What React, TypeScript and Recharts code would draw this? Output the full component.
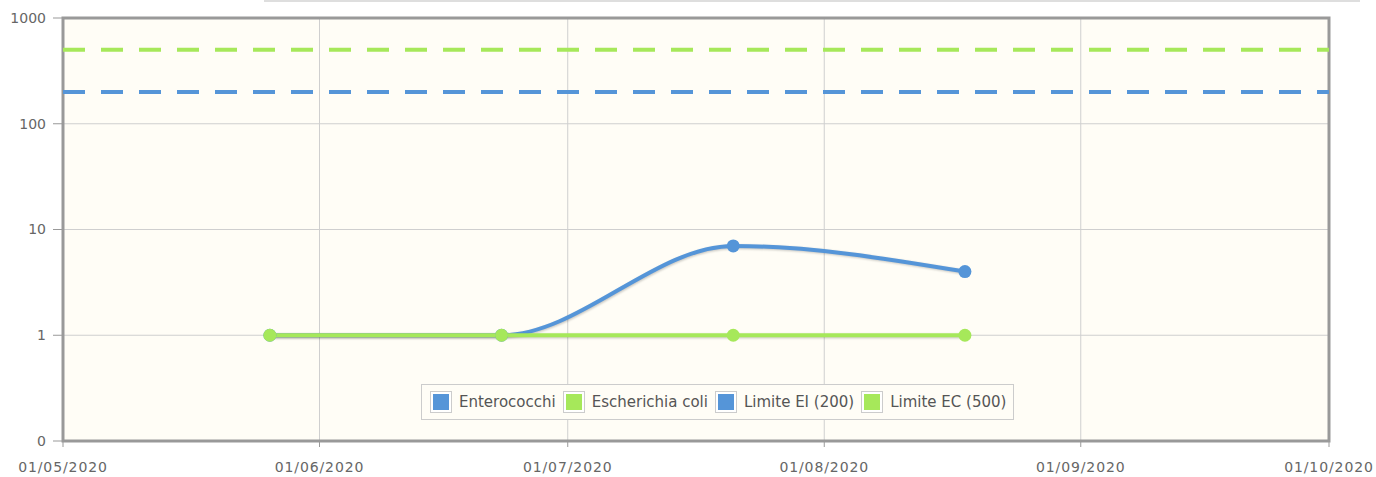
import { LineChart, Line, XAxis, YAxis, CartesianGrid, ReferenceArea } from "recharts";

const sampleDates = ["2020-05-26", "2020-06-23", "2020-07-21", "2020-08-18"];
const enterococchi = [1, 1, 7, 4];
const escherichiaColi = [1, 1, 1, 1];

const limitDates = ["2020-05-01", "2020-10-01"];
const limiteEI = [200, 200];
const limiteEC = [500, 500];

const monthTicks = ["2020-05-01", "2020-06-01", "2020-07-01", "2020-08-01", "2020-09-01", "2020-10-01"];
const yTicks = [0.1, 1, 10, 100, 1000];

const BLUE = "#5595d8";
const GREEN = "#a6e85a";

const ts = (d: string) => Date.parse(d + "T00:00:00Z");

const data = sampleDates.map((d, i) => ({ t: ts(d), ent: enterococchi[i], ec: escherichiaColi[i] }));
const limitData = limitDates.map((d, i) => ({ t: ts(d), ei: limiteEI[i], lec: limiteEC[i] }));

const legendItems = [
  { name: "Enterococchi", color: BLUE },
  { name: "Escherichia coli", color: GREEN },
  { name: "Limite EI (200)", color: BLUE },
  { name: "Limite EC (500)", color: GREEN },
];

const fmtDate = (v: number) => {
  const d = new Date(v);
  const dd = String(d.getUTCDate()).padStart(2, "0");
  const mm = String(d.getUTCMonth() + 1).padStart(2, "0");
  return `${dd}/${mm}/${d.getUTCFullYear()}`;
};

const fmtY = (v: number) => (v < 1 ? "0" : String(v));

const tickStyle = { fontFamily: "DejaVu Sans", fontSize: 14, fill: "#666" };

export default function App() {
  const x0 = ts(monthTicks[0]);
  const x1 = ts(monthTicks[monthTicks.length - 1]);
  return (
    <div style={{ position: "fixed", left: 0, top: 0, width: 1376, height: 477, background: "#fff" }}>
      <style>{`.shadowed { filter: drop-shadow(1px 1.5px 1px rgba(0,0,0,0.22)); }`}</style>
      <div style={{ position: "absolute", left: 264, top: 0, width: 1096, height: 2, background: "#dedede" }} />
      <LineChart width={1376} height={477} data={data} margin={{ top: 18, right: 47, left: 0, bottom: 0 }}>
        <CartesianGrid stroke="#cfcfcf" fill="#fffdf6" />
        <XAxis
          dataKey="t"
          type="number"
          scale="time"
          domain={[x0, x1]}
          ticks={monthTicks.map(ts)}
          tickFormatter={fmtDate}
          tick={{ ...tickStyle, letterSpacing: 0.9 }}
          axisLine={false}
          tickLine={{ stroke: "#999" }}
          tickSize={6}
          tickMargin={15}
          height={36}
          interval={0}
        />
        <YAxis
          type="number"
          scale="log"
          domain={[0.1, 1000]}
          ticks={yTicks}
          tickFormatter={fmtY}
          tick={tickStyle}
          axisLine={false}
          tickLine={{ stroke: "#999" }}
          tickSize={10}
          tickMargin={7}
          width={63}
          interval={0}
          allowDataOverflow
        />
        <ReferenceArea x1={x0} x2={x1} y1={0.1} y2={1000} fill="none" stroke="#999" strokeWidth={3} />
        <Line
          data={limitData}
          dataKey="lec"
          stroke={GREEN}
          strokeWidth={4}
          strokeDasharray="22 16"
          dot={false}
          activeDot={false}
          isAnimationActive={false}
        />
        <Line
          data={limitData}
          dataKey="ei"
          stroke={BLUE}
          strokeWidth={4}
          strokeDasharray="22 16"
          dot={false}
          activeDot={false}
          isAnimationActive={false}
        />
        <Line
          className="shadowed"
          type="monotone"
          dataKey="ent"
          stroke={BLUE}
          strokeWidth={4}
          dot={{ r: 6.5, fill: BLUE, stroke: BLUE, strokeWidth: 0 }}
          activeDot={false}
          isAnimationActive={false}
        />
        <Line
          className="shadowed"
          type="monotone"
          dataKey="ec"
          stroke={GREEN}
          strokeWidth={4}
          dot={{ r: 6.5, fill: GREEN, stroke: GREEN, strokeWidth: 0 }}
          activeDot={false}
          isAnimationActive={false}
        />
      </LineChart>
      <div
        style={{
          position: "absolute",
          left: 421,
          top: 384,
          height: 36,
          display: "flex",
          alignItems: "center",
          padding: "0 7px 0 9px",
          border: "1px solid #cccccc",
          background: "#fffdf6",
          fontFamily: "DejaVu Sans",
          fontSize: 15,
          color: "#555",
          boxSizing: "border-box",
        }}
      >
        {legendItems.map((it, i) => (
          <div key={it.name} style={{ display: "flex", alignItems: "center", marginLeft: i === 0 ? 0 : 8 }}>
            <span
              style={{
                display: "inline-block",
                width: 16,
                height: 16,
                background: it.color,
                border: "2px solid #fff",
                outline: "1px solid #ccc",
                marginRight: 8,
              }}
            />
            <span>{it.name}</span>
          </div>
        ))}
      </div>
    </div>
  );
}
